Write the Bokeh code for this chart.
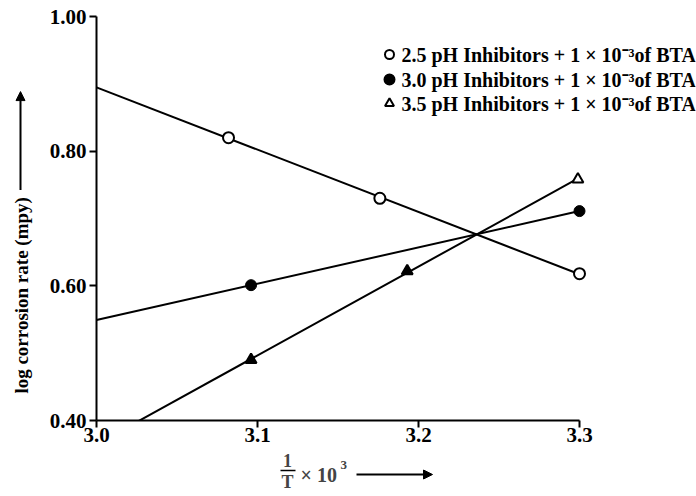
import numpy as np
from bokeh.plotting import figure
from bokeh.layouts import row, column
from bokeh.models import Range1d, FixedTicker, Label, Arrow, NormalHead, NumeralTickFormatter
from bokeh.embed import file_html
from bokeh.resources import INLINE

# ---- data ----
x_25 = [3.082, 3.176, 3.300]
y_25 = [0.820, 0.730, 0.618]
x_30 = [3.096, 3.300]
y_30 = [0.601, 0.711]
x_35 = [3.096, 3.193, 3.299]
y_35 = [0.490, 0.622, 0.758]
fill_35 = ["black", "black", "white"]
series_labels = [
    "2.5 pH Inhibitors + 1 \u00d7 10\u207b\u00b3of BTA",
    "3.0 pH Inhibitors + 1 \u00d7 10\u207b\u00b3of BTA",
    "3.5 pH Inhibitors + 1 \u00d7 10\u207b\u00b3of BTA",
]
y_label = "log corrosion rate (mpy)"
x_ticks = [3.0, 3.1, 3.2, 3.3]
y_ticks = [0.40, 0.60, 0.80, 1.00]

FONT = "Liberation Serif"
X0, X1 = 3.0, 3.3
Y0, Y1 = 0.40, 1.00
# page geometry
YL_W = 36            # width of the left label strip
MAIN_H = 452
XL_H = 42
FL, FR, FT, FB = 96, 579, 16, 420   # where 3.0 / 3.3 / 1.00 / 0.40 sit on the page
FRAME_R = 695                       # frame extends right so the legend fits

def dx(px):
    return X0 + (px - FL) * (X1 - X0) / (FR - FL)

def dy(py):
    return Y1 - (py - FT) * (Y1 - Y0) / (FB - FT)

def bare(w, h):
    f = figure(width=w, height=h, x_range=Range1d(0, w), y_range=Range1d(0, h),
               x_axis_location=None, y_axis_location=None,
               min_border_left=0, min_border_right=0, min_border_top=0, min_border_bottom=0,
               output_backend="svg", toolbar_location=None)
    f.outline_line_color = None
    f.xgrid.visible = False
    f.ygrid.visible = False
    return f

# ---- main chart ----
p = figure(width=696 - YL_W, height=MAIN_H,
           min_border_left=FL - YL_W, min_border_right=696 - FRAME_R,
           min_border_top=FT, min_border_bottom=MAIN_H - FB,
           x_range=Range1d(X0, dx(FRAME_R)), y_range=Range1d(Y0, Y1),
           output_backend="svg", toolbar_location=None)
p.outline_line_color = None
p.xgrid.visible = False
p.ygrid.visible = False

for ax in (p.xaxis[0], p.yaxis[0]):
    ax.axis_line_width = 2
    ax.axis_line_color = "black"
    ax.major_tick_line_width = 2
    ax.major_tick_line_color = "black"
    ax.major_tick_out = 7
    ax.major_tick_in = 0
    ax.minor_tick_line_color = None
    ax.major_label_text_font = FONT
    ax.major_label_text_font_style = "bold"
    ax.major_label_text_font_size = "21px"
    ax.major_label_text_color = "black"
p.xaxis.major_label_standoff = 0
p.yaxis.major_label_standoff = 3
p.xaxis.bounds = (X0, X1)
p.xaxis.ticker = FixedTicker(ticks=x_ticks)
p.yaxis.ticker = FixedTicker(ticks=y_ticks)
p.xaxis.formatter = NumeralTickFormatter(format="0.0")
p.yaxis.formatter = NumeralTickFormatter(format="0.00")

xs_line = np.array([X0, X1])
for xv, yv in ((x_25, y_25), (x_30, y_30), (x_35, y_35)):
    k, b = np.polyfit(xv, yv, 1)
    p.line(xs_line, k * xs_line + b, line_color="black", line_width=2)

p.scatter(x_25, y_25, marker="circle", size=11, fill_color="white",
          line_color="black", line_width=2)
p.scatter(x_30, y_30, marker="circle", size=11, fill_color="black",
          line_color="black", line_width=1)
p.scatter(x_35, y_35, marker="triangle", size=11, fill_color=fill_35,
          line_color="black", line_width=2)

# legend
leg_rows = [54, 79, 103]
leg_markers = [("circle", "white", 9), ("circle", "black", 10), ("triangle", "white", 9)]
for (mk, fc, sz), rw, lab in zip(leg_markers, leg_rows, series_labels):
    p.scatter([dx(389)], [dy(rw)], marker=mk, size=sz, fill_color=fc,
              line_color="black", line_width=2)
    p.add_layout(Label(x=dx(401), y=dy(rw), text=lab, text_font=FONT,
                       text_font_style="bold", text_font_size="20px",
                       text_baseline="middle", text_align="left", text_color="black"))

# ---- left strip: y label with arrow ----
yl = bare(YL_W, MAIN_H)
yl.add_layout(Label(x=21, y=MAIN_H - 312, text=y_label, angle=np.pi / 2,
                    text_font=FONT, text_font_style="bold", text_font_size="19px",
                    text_baseline="middle", text_align="center", text_color="black"))
yl.add_layout(Arrow(x_start=20, y_start=MAIN_H - 194, x_end=20, y_end=MAIN_H - 84,
                    line_width=2, line_color="black",
                    end=NormalHead(size=9, fill_color="black", line_color="black")))

# ---- bottom strip: 1/T x 10^3 with arrow ----
xl = bare(696, XL_H)
top = MAIN_H  # page y of strip top
def sy(py):
    return XL_H - (py - top)
xl.add_layout(Label(x=287, y=sy(460), text="1", text_font=FONT, text_font_style="bold",
                    text_font_size="18px", text_baseline="middle", text_align="center"))
xl.segment(x0=[280], y0=[sy(470)], x1=[295], y1=[sy(470)], line_width=1.5, line_color="black")
xl.add_layout(Label(x=287, y=sy(481), text="T", text_font=FONT, text_font_style="bold",
                    text_font_size="18px", text_baseline="middle", text_align="center"))
xl.add_layout(Label(x=300, y=sy(474), text="\u00d7 10", text_font=FONT,
                    text_font_style="bold", text_font_size="20px",
                    text_baseline="middle", text_align="left"))
xl.add_layout(Label(x=340, y=sy(464), text="3", text_font=FONT,
                    text_font_style="bold", text_font_size="13px",
                    text_baseline="middle", text_align="left"))
xl.add_layout(Arrow(x_start=356, y_start=sy(474), x_end=432, y_end=sy(474),
                    line_width=2, line_color="black",
                    end=NormalHead(size=9, fill_color="black", line_color="black")))

layout = column(row(yl, p, spacing=0), xl, spacing=0)
open("out.html", "w").write(file_html(layout, INLINE))
